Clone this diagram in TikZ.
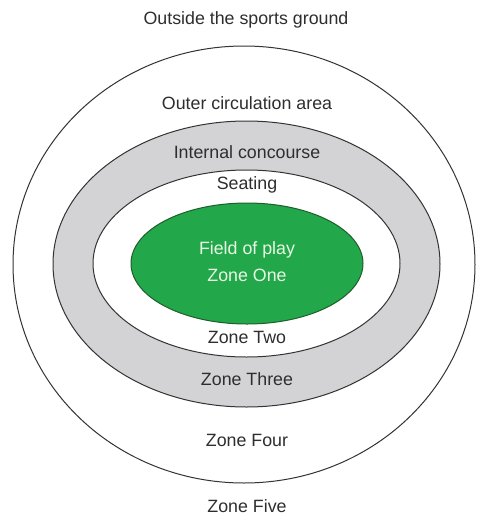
\documentclass[tikz,border=0pt]{standalone}
\usepackage{fontspec}
\setmainfont{Liberation Sans}
\usetikzlibrary{shapes.geometric}
\definecolor{ringline}{HTML}{333333}
\definecolor{concourse}{HTML}{D3D3D5}
\definecolor{pitch}{HTML}{22A84A}
\definecolor{pitchline}{HTML}{1E5E2A}
\definecolor{pitchtext}{HTML}{E8F8E4}
\definecolor{labeltext}{HTML}{2E2E2E}
\tikzset{
  zone/.style={ellipse, inner sep=0pt, draw=ringline, line width=1pt},
  zonelabel/.style={font=\fontsize{17.8}{20}\selectfont, text=labeltext, inner sep=0pt},
  pitchlabel/.style={font=\fontsize{17.8}{20}\selectfont, text=pitchtext, inner sep=0pt}
}
\begin{document}
\begin{tikzpicture}[x=1pt,y=-1pt]
  \useasboundingbox[fill=white] (0,0) rectangle (480,517);
  % nested zones, outermost first
  \node[zone, fill=white, minimum width=462pt, minimum height=437pt] (outer) at (244,264.5) {};
  \node[zone, fill=concourse, minimum width=387pt, minimum height=286pt] (ring) at (246.5,264) {};
  \node[zone, fill=white, minimum width=307pt, minimum height=187pt] (seats) at (246.5,263.5) {};
  \node[zone, fill=pitch, draw=pitchline, minimum width=232pt, minimum height=121pt] (field) at (247,263.5) {};
  % labels
  \node[zonelabel] (outside) at (246,20) {Outside the sports ground};
  \node[zonelabel] (outercirc) at (247,103) {Outer circulation area};
  \node[zonelabel] (internal) at (247,152) {Internal concourse};
  \node[zonelabel] (seating) at (247,185) {Seating};
  \node[pitchlabel] (fop) at (247,250) {Field of play};
  \node[pitchlabel] (z1) at (247,275) {Zone One};
  \node[zonelabel] (z2) at (247,337) {Zone Two};
  \node[zonelabel] (z3) at (247,379) {Zone Three};
  \node[zonelabel] (z4) at (247,440) {Zone Four};
  \node[zonelabel] (z5) at (247,506) {Zone Five};
\end{tikzpicture}
\end{document}
